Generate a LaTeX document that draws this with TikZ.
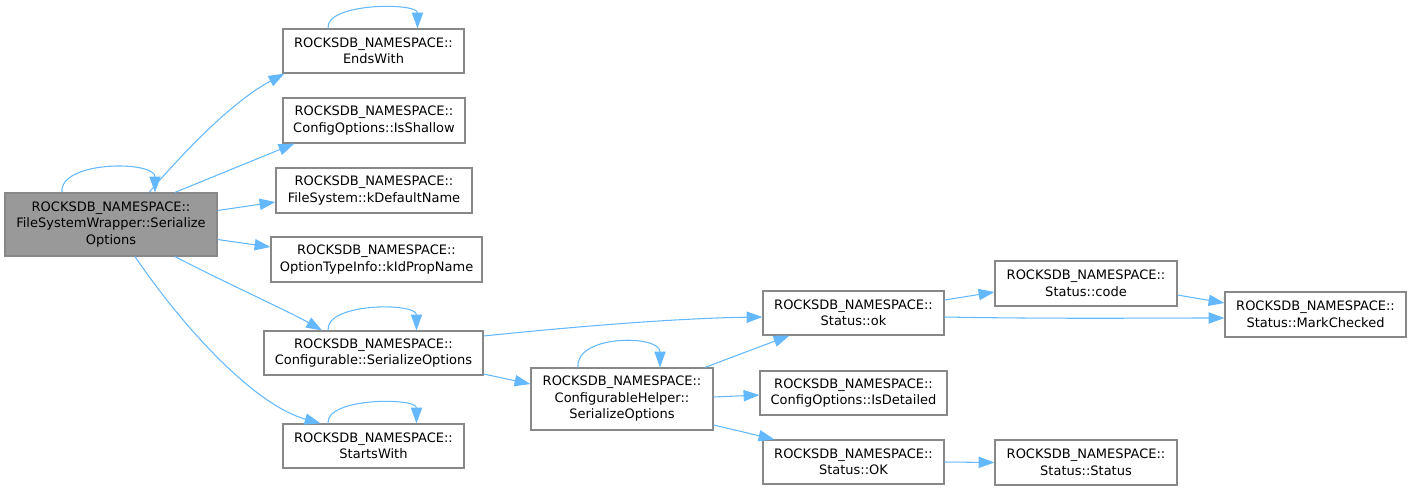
\documentclass[tikz,border=0pt]{standalone}
\usepackage{fontspec}
\setmainfont{DejaVu Sans}
\usetikzlibrary{arrows.meta,calc}
\definecolor{edgeblue}{HTML}{63B8FF}
\definecolor{boxline}{HTML}{888888}
\definecolor{mainfill}{HTML}{999999}

\begin{document}
\begin{tikzpicture}[x=0.02cm,y=-0.02cm,
  fn/.style={draw=boxline,line width=0.7pt,fill=white,align=center,inner sep=0pt,
    font=\fontsize{7.4}{9.4}\selectfont},
  call/.style={draw=edgeblue,line width=0.6pt,-{Triangle[length=9pt,width=6.4pt]}}]
\useasboundingbox (0,0) rectangle (1412,490);

\node[fn,fill=mainfill,minimum width=4.24cm,minimum height=1.26cm] (main) at (111,224.5)
  {ROCKSDB\_NAMESPACE::\\FileSystemWrapper::Serialize\\Options};
\node[fn,minimum width=3.62cm,minimum height=0.88cm] (endswith) at (373.5,51)
  {ROCKSDB\_NAMESPACE::\\EndsWith};
\node[fn,minimum width=3.64cm,minimum height=0.9cm] (isshallow) at (374,120.5)
  {ROCKSDB\_NAMESPACE::\\ConfigOptions::IsShallow};
\node[fn,minimum width=3.92cm,minimum height=0.9cm] (kdefault) at (374,190.5)
  {ROCKSDB\_NAMESPACE::\\FileSystem::kDefaultName};
\node[fn,minimum width=4.22cm,minimum height=0.9cm] (kidprop) at (376.5,259.5)
  {ROCKSDB\_NAMESPACE::\\OptionTypeInfo::kIdPropName};
\node[fn,minimum width=4.38cm,minimum height=0.88cm] (confser) at (373.5,353)
  {ROCKSDB\_NAMESPACE::\\Configurable::SerializeOptions};
\node[fn,minimum width=3.62cm,minimum height=0.88cm] (startswith) at (373.5,446)
  {ROCKSDB\_NAMESPACE::\\StartsWith};
\node[fn,minimum width=3.64cm,minimum height=1.24cm] (helper) at (622,399)
  {ROCKSDB\_NAMESPACE::\\ConfigurableHelper::\\SerializeOptions};
\node[fn,minimum width=3.62cm,minimum height=0.88cm] (ok) at (853.5,313)
  {ROCKSDB\_NAMESPACE::\\Status::ok};
\node[fn,minimum width=3.74cm,minimum height=0.88cm] (isdetailed) at (853.5,393)
  {ROCKSDB\_NAMESPACE::\\ConfigOptions::IsDetailed};
\node[fn,minimum width=3.62cm,minimum height=0.88cm] (okstat) at (853.5,462)
  {ROCKSDB\_NAMESPACE::\\Status::OK};
\node[fn,minimum width=3.64cm,minimum height=0.9cm] (code) at (1086,283.5)
  {ROCKSDB\_NAMESPACE::\\Status::code};
\node[fn,minimum width=3.62cm,minimum height=0.9cm] (markchecked) at (1315.5,314.5)
  {ROCKSDB\_NAMESPACE::\\Status::MarkChecked};
\node[fn,minimum width=3.64cm,minimum height=0.9cm] (statusctor) at (1086,462.5)
  {ROCKSDB\_NAMESPACE::\\Status::Status};

% self calls
\draw[call] ($(main.north)+(-49,0)$) .. controls ($(main.north)+(-52,-32)$) and ($(main.north)+(44,-32)$) .. ($(main.north)+(44,0)$);
\draw[call] ($(endswith.north)+(-45.5,0)$) .. controls ($(endswith.north)+(-48,-26)$) and ($(endswith.north)+(44,-26)$) .. ($(endswith.north)+(44,0)$);
\draw[call] ($(confser.north)+(-45.5,0)$) .. controls ($(confser.north)+(-48,-28)$) and ($(confser.north)+(43,-28)$) .. ($(confser.north)+(43,0)$);
\draw[call] ($(startswith.north)+(-45.5,0)$) .. controls ($(startswith.north)+(-48,-26)$) and ($(startswith.north)+(43,-26)$) .. ($(startswith.north)+(43,0)$);
\draw[call] ($(helper.north)+(-44,0)$) .. controls ($(helper.north)+(-47,-33)$) and ($(helper.north)+(38,-33)$) .. ($(helper.north)+(38,0)$);

% calls from main
\draw[call] ($(main.north)+(38,0)$) .. controls (190,145) and (235,100) .. ($(endswith.south west)+(2,0)$);
\draw[call] ($(main.north)+(64,0)$) -- ($(isshallow.south west)+(12,0)$);
\draw[call] ($(main.east)+(0,-14)$) -- ($(kdefault.west)+(0,11.5)$);
\draw[call] ($(main.east)+(0,15)$) -- ($(kidprop.west)+(0,-12.5)$);
\draw[call] ($(main.south)+(64,0)$) .. controls (230,285) and (290,312) .. ($(confser.north)+(-51.5,0)$);
\draw[call] ($(main.south)+(24,0)$) .. controls (185,330) and (255,405) .. ($(startswith.north)+(-53,0)$);

% further calls
\draw[call] ($(confser.east)+(0,-17)$) .. controls (600,324) and (690,318) .. ($(ok.west)+(0,4)$);
\draw[call] ($(confser.east)+(0,21)$) -- ($(helper.west)+(0,-15)$);
\draw[call] ($(helper.north)+(83,0)$) -- ($(ok.south west)+(27,0)$);
\draw[call] ($(helper.east)+(0,-2)$) -- ($(isdetailed.west)+(0,2)$);
\draw[call] ($(helper.east)+(0,26)$) -- ($(okstat.north west)+(12,0)$);
\draw[call] ($(ok.east)+(0,-13)$) -- ($(code.west)+(0,8.5)$);
\draw[call] ($(ok.east)+(0,4)$) .. controls (1050,319) and (1150,318) .. ($(markchecked.west)+(0,3.5)$);
\draw[call] ($(code.east)+(0,11.5)$) -- ($(markchecked.west)+(0,-11.5)$);
\draw[call] (okstat.east) -- (statusctor.west);
\end{tikzpicture}
\end{document}
